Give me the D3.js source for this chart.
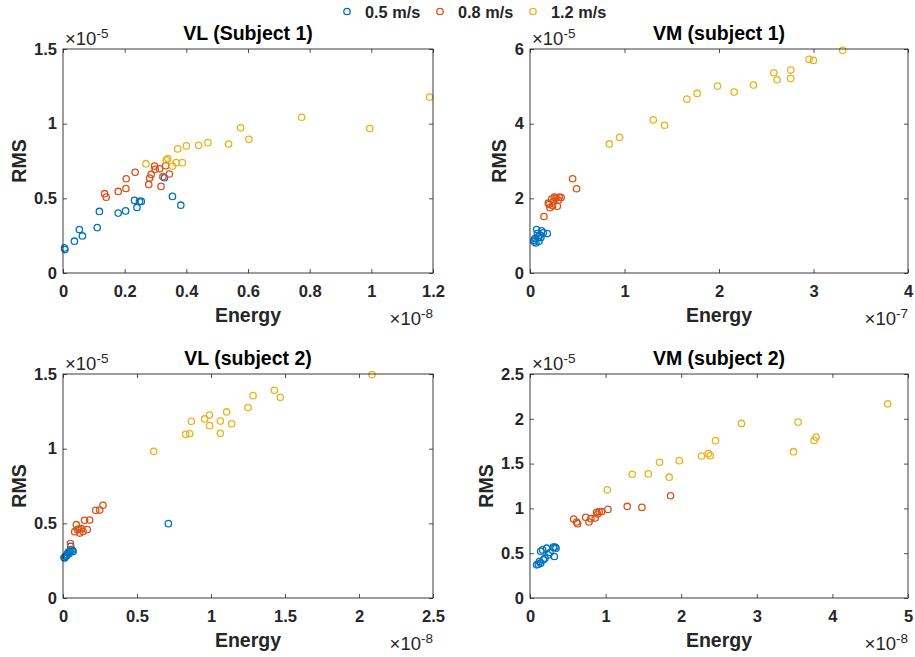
<!DOCTYPE html>
<html>
<head>
<meta charset="utf-8">
<script src="https://cdn.jsdelivr.net/npm/d3@7"></script>
<style>
  body { margin: 0; background: #fff; }
  svg { display: block; font-family: "Liberation Sans", Arial, Helvetica, sans-serif; }
</style>
</head>
<body>
<svg id="chart" width="915" height="657"></svg>
<script>
// ---------------- DATA ----------------
const seriesNames = ["0.5 m/s", "0.8 m/s", "1.2 m/s"];
const seriesColors = ["#0072BD", "#D95319", "#EDB120"];

const panelTitles = ["VL (Subject 1)", "VM (subject 1)", "VL (subject 2)", "VM (subject 2)"];
const xExponents = ["-8", "-7", "-8", "-8"];
const yExponents = ["-5", "-5", "-5", "-5"];

// tick values (in units of the exponent)
const xTicks1 = [0, 0.2, 0.4, 0.6, 0.8, 1, 1.2];
const xTickLabels1 = ["0", "0.2", "0.4", "0.6", "0.8", "1", "1.2"];
const yTicks1 = [0, 0.5, 1, 1.5];
const yTickLabels1 = ["0", "0.5", "1", "1.5"];
const xTicks2 = [0, 1, 2, 3, 4];
const xTickLabels2 = ["0", "1", "2", "3", "4"];
const yTicks2 = [0, 2, 4, 6];
const yTickLabels2 = ["0", "2", "4", "6"];
const xTicks3 = [0, 0.5, 1, 1.5, 2, 2.5];
const xTickLabels3 = ["0", "0.5", "1", "1.5", "2", "2.5"];
const yTicks3 = [0, 0.5, 1, 1.5];
const yTickLabels3 = ["0", "0.5", "1", "1.5"];
const xTicks4 = [0, 1, 2, 3, 4, 5];
const xTickLabels4 = ["0", "1", "2", "3", "4", "5"];
const yTicks4 = [0, 0.5, 1, 1.5, 2, 2.5];
const yTickLabels4 = ["0", "0.5", "1", "1.5", "2", "2.5"];

// Panel 1: VL (Subject 1) — Energy ×1e-8, RMS ×1e-5
const p1BlueX = [0.005, 0.006, 0.037, 0.053, 0.063, 0.111, 0.118, 0.179, 0.203, 0.232, 0.240, 0.248, 0.254, 0.329, 0.355, 0.382];
const p1BlueY = [0.168, 0.157, 0.213, 0.291, 0.248, 0.304, 0.412, 0.401, 0.416, 0.486, 0.439, 0.479, 0.479, 0.638, 0.513, 0.454];
const p1RedX = [0.135, 0.140, 0.179, 0.204, 0.205, 0.234, 0.278, 0.281, 0.286, 0.297, 0.299, 0.313, 0.318, 0.324, 0.333, 0.345];
const p1RedY = [0.531, 0.508, 0.546, 0.566, 0.631, 0.674, 0.593, 0.636, 0.660, 0.716, 0.694, 0.698, 0.580, 0.645, 0.719, 0.663];
const p1YellowX = [0.269, 0.335, 0.340, 0.355, 0.367, 0.372, 0.387, 0.400, 0.440, 0.470, 0.537, 0.576, 0.603, 0.774, 0.995, 1.189];
const p1YellowY = [0.732, 0.757, 0.766, 0.716, 0.739, 0.831, 0.739, 0.851, 0.855, 0.873, 0.864, 0.972, 0.895, 1.043, 0.967, 1.178];

// Panel 2: VM (subject 1) — Energy ×1e-7, RMS ×1e-5
const p2BlueX = [0.042, 0.053, 0.063, 0.070, 0.078, 0.088, 0.106, 0.123, 0.141, 0.183, 0.042, 0.095, 0.115];
const p2BlueY = [0.833, 0.922, 0.806, 1.164, 1.057, 0.967, 1.012, 1.128, 1.075, 1.057, 0.878, 0.850, 0.950];
const p2RedX = [0.148, 0.194, 0.204, 0.211, 0.229, 0.247, 0.257, 0.275, 0.289, 0.310, 0.330, 0.451, 0.493, 0.240, 0.300];
const p2RedY = [1.513, 1.870, 1.840, 1.750, 1.980, 1.910, 2.030, 2.000, 1.790, 2.030, 2.020, 2.525, 2.257, 1.800, 1.950];
const p2YellowX = [0.839, 0.948, 1.304, 1.424, 1.660, 1.769, 1.984, 2.160, 2.365, 2.580, 2.615, 2.759, 2.759, 2.953, 2.999, 3.309];
const p2YellowY = [3.457, 3.636, 4.101, 3.958, 4.657, 4.809, 5.006, 4.845, 5.033, 5.364, 5.176, 5.436, 5.212, 5.722, 5.695, 5.964];

// Panel 3: VL (subject 2) — Energy ×1e-8, RMS ×1e-5
const p3BlueX = [0.007, 0.011, 0.018, 0.023, 0.027, 0.034, 0.041, 0.045, 0.052, 0.054, 0.063, 0.068, 0.712];
const p3BlueY = [0.270, 0.268, 0.279, 0.283, 0.290, 0.306, 0.297, 0.312, 0.346, 0.324, 0.319, 0.312, 0.498];
const p3RedX = [0.050, 0.079, 0.090, 0.097, 0.108, 0.113, 0.124, 0.135, 0.146, 0.164, 0.180, 0.221, 0.248, 0.270];
const p3RedY = [0.364, 0.444, 0.491, 0.458, 0.462, 0.435, 0.464, 0.446, 0.520, 0.458, 0.522, 0.587, 0.589, 0.621];
const p3YellowX = [0.613, 0.829, 0.856, 0.867, 0.957, 0.989, 0.991, 1.063, 1.063, 1.106, 1.140, 1.250, 1.284, 1.428, 1.468, 2.088];
const p3YellowY = [0.982, 1.096, 1.100, 1.183, 1.199, 1.225, 1.154, 1.185, 1.103, 1.246, 1.167, 1.275, 1.355, 1.391, 1.344, 1.496];

// Panel 4: VM (subject 2) — Energy ×1e-8, RMS ×1e-5
const p4BlueX = [0.088, 0.110, 0.123, 0.141, 0.141, 0.167, 0.176, 0.198, 0.220, 0.242, 0.264, 0.308, 0.322, 0.330, 0.344];
const p4BlueY = [0.370, 0.378, 0.407, 0.389, 0.522, 0.537, 0.426, 0.444, 0.556, 0.481, 0.507, 0.567, 0.463, 0.567, 0.556];
const p4RedX = [0.577, 0.617, 0.630, 0.736, 0.780, 0.806, 0.863, 0.881, 0.894, 0.916, 0.947, 1.031, 1.286, 1.480, 1.859];
const p4RedY = [0.881, 0.848, 0.830, 0.900, 0.848, 0.885, 0.893, 0.956, 0.937, 0.963, 0.963, 0.989, 1.022, 1.011, 1.141];
const p4YellowX = [1.022, 1.352, 1.564, 1.714, 1.841, 1.974, 2.269, 2.357, 2.383, 2.454, 2.797, 3.485, 3.546, 3.758, 3.784, 4.731];
const p4YellowY = [1.207, 1.381, 1.385, 1.515, 1.348, 1.533, 1.585, 1.611, 1.589, 1.756, 1.948, 1.633, 1.963, 1.759, 1.796, 2.167];

// ---------------- LAYOUT ----------------
const panels = [
  { title: panelTitles[0], xExp: xExponents[0], yExp: yExponents[0], xTicks: xTicks1, xLabels: xTickLabels1, yTicks: yTicks1, yLabels: yTickLabels1,
    series: [[p1BlueX, p1BlueY], [p1RedX, p1RedY], [p1YellowX, p1YellowY]], box: { left: 63, top: 49, w: 370, h: 224 } },
  { title: panelTitles[1], xExp: xExponents[1], yExp: yExponents[1], xTicks: xTicks2, xLabels: xTickLabels2, yTicks: yTicks2, yLabels: yTickLabels2,
    series: [[p2BlueX, p2BlueY], [p2RedX, p2RedY], [p2YellowX, p2YellowY]], box: { left: 530, top: 49, w: 378, h: 224 } },
  { title: panelTitles[2], xExp: xExponents[2], yExp: yExponents[2], xTicks: xTicks3, xLabels: xTickLabels3, yTicks: yTicks3, yLabels: yTickLabels3,
    series: [[p3BlueX, p3BlueY], [p3RedX, p3RedY], [p3YellowX, p3YellowY]], box: { left: 63, top: 374, w: 370, h: 224 } },
  { title: panelTitles[3], xExp: xExponents[3], yExp: yExponents[3], xTicks: xTicks4, xLabels: xTickLabels4, yTicks: yTicks4, yLabels: yTickLabels4,
    series: [[p4BlueX, p4BlueY], [p4RedX, p4RedY], [p4YellowX, p4YellowY]], box: { left: 530, top: 374, w: 378, h: 224 } }
];

const svg = d3.select("#chart");
const axisColor = "#262626";
const tickFont = 16.5, labelFont = 19.5, titleFont = 19.5;
const markerR = 3.2;

panels.forEach(p => {
  const b = p.box;
  const g = svg.append("g").attr("transform", `translate(${b.left},${b.top})`);
  const x = d3.scaleLinear().domain([p.xTicks[0], p.xTicks[p.xTicks.length - 1]]).range([0, b.w]);
  const y = d3.scaleLinear().domain([p.yTicks[0], p.yTicks[p.yTicks.length - 1]]).range([b.h, 0]);

  // points
  p.series.forEach((s, si) => {
    const pts = s[0].map((v, i) => [v, s[1][i]]);
    g.append("g").selectAll("circle").data(pts).join("circle")
      .attr("cx", d => x(d[0])).attr("cy", d => y(d[1])).attr("r", markerR)
      .attr("fill", "none").attr("stroke", seriesColors[si]).attr("stroke-width", 1.3);
  });

  const fmtX = (d, i) => p.xLabels[i];
  const fmtY = (d, i) => p.yLabels[i];

  const styleAxis = sel => {
    sel.select(".domain").remove();
    sel.selectAll(".tick line").attr("stroke", axisColor).attr("stroke-width", 0.8);
    sel.selectAll(".tick text").attr("fill", axisColor).attr("font-size", tickFont).attr("font-weight", "bold")
      .attr("font-family", "'Liberation Sans', Arial, Helvetica, sans-serif");
  };

  const xa = g.append("g").attr("transform", `translate(0,${b.h})`)
    .call(d3.axisBottom(x).tickValues(p.xTicks).tickFormat(fmtX).tickSize(-4).tickPadding(12));
  styleAxis(xa);
  const xt = g.append("g")
    .call(d3.axisTop(x).tickValues(p.xTicks).tickFormat("").tickSize(-4));
  styleAxis(xt);
  const ya = g.append("g")
    .call(d3.axisLeft(y).tickValues(p.yTicks).tickFormat(fmtY).tickSize(-4).tickPadding(6));
  styleAxis(ya);
  const yr = g.append("g").attr("transform", `translate(${b.w},0)`)
    .call(d3.axisRight(y).tickValues(p.yTicks).tickFormat("").tickSize(-4));
  styleAxis(yr);

  // box
  g.append("rect").attr("x", 0).attr("y", 0).attr("width", b.w).attr("height", b.h)
    .attr("fill", "none").attr("stroke", axisColor).attr("stroke-width", 0.9);

  // widest y tick label
  let maxW = 0;
  ya.selectAll(".tick text").each(function () { maxW = Math.max(maxW, this.getBBox().width); });

  // title
  g.append("text").attr("x", b.w / 2).attr("y", -9).attr("text-anchor", "middle")
    .attr("font-size", titleFont).attr("font-weight", "bold").attr("fill", "#000").text(p.title);

  // x label
  g.append("text").attr("x", b.w / 2).attr("y", b.h + 49).attr("text-anchor", "middle")
    .attr("font-size", labelFont).attr("font-weight", "bold").attr("fill", axisColor).text("Energy");

  // y label
  const ylx = -(6 + maxW + 15);
  g.append("text").attr("transform", `translate(${ylx},${b.h / 2}) rotate(-90)`)
    .attr("text-anchor", "middle").attr("dy", "0.36em")
    .attr("font-size", labelFont).attr("font-weight", "bold").attr("fill", axisColor).text("RMS");

  // y exponent (top-left)
  const ye = g.append("text").attr("x", 2).attr("y", -4).attr("font-size", 18.5).attr("fill", axisColor);
  ye.append("tspan").text("\u00D710");
  ye.append("tspan").attr("dy", -7).attr("font-size", 13.5).text(p.yExp);

  // x exponent (bottom-right)
  const xe = g.append("text").attr("x", b.w).attr("y", b.h + 52).attr("text-anchor", "end").attr("font-size", 18.5).attr("fill", axisColor);
  xe.append("tspan").text("\u00D710");
  xe.append("tspan").attr("dy", -7).attr("font-size", 13.5).text(p.xExp);
});

// legend
const legendX = [347, 440, 533];
const lg = svg.append("g");
seriesNames.forEach((name, i) => {
  lg.append("circle").attr("cx", legendX[i]).attr("cy", 11.5).attr("r", markerR)
    .attr("fill", "none").attr("stroke", seriesColors[i]).attr("stroke-width", 1.3);
  lg.append("text").attr("x", legendX[i] + 18).attr("y", 18)
    .attr("font-size", 16.3).attr("font-weight", "bold").attr("fill", axisColor).text(name);
});
</script>
</body>
</html>
